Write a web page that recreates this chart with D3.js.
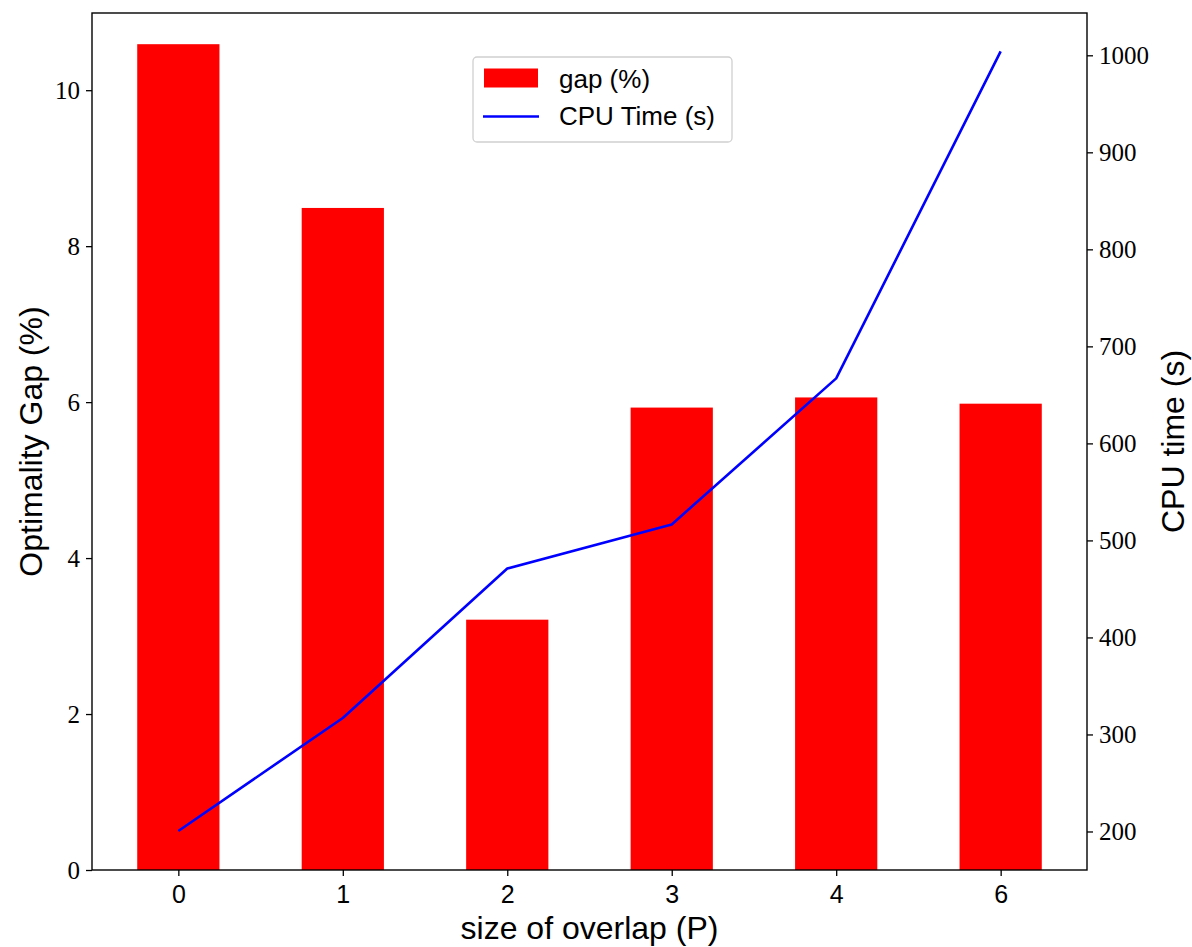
<!DOCTYPE html>
<html>
<head>
<meta charset="utf-8">
<script src="https://cdn.jsdelivr.net/npm/d3@7"></script>
<style>
  html, body { margin: 0; padding: 0; background: #fff; }
  svg { display: block; }
</style>
</head>
<body>
<svg id="chart" width="1192" height="947"></svg>
<script>
// ---- data ----
const categories = ["0", "1", "2", "3", "4", "6"];
const gapValues = [10.59, 8.49, 3.21, 5.93, 6.06, 5.98];
const cpuValues = [200.5, 317, 471, 516.5, 667, 1004];
const leftTicks = [0, 2, 4, 6, 8, 10];
const rightTicks = [200, 300, 400, 500, 600, 700, 800, 900, 1000];
const seriesNames = ["gap (%)", "CPU Time (s)"];
const axisTitles = { x: "size of overlap (P)", left: "Optimality Gap (%)", right: "CPU time (s)" };

// ---- layout ----
const W = 1192, H = 947;
const plot = { left: 92, right: 1087, top: 13, bottom: 870 };
const svg = d3.select("#chart");
const serif = "'Liberation Serif', 'Times New Roman', serif";
const sans = "'Liberation Sans', Arial, Helvetica, sans-serif";

const x = d3.scaleLinear().domain([-0.525, categories.length - 1 + 0.525]).range([plot.left, plot.right]);
const yL = d3.scaleLinear().domain([0, 10.99]).range([plot.bottom, plot.top]);
const yR = d3.scaleLinear().domain([160.3, 1043.6]).range([plot.bottom, plot.top]);
const barW = x(0.5) - x(0);

// bars
svg.append("g").selectAll("rect").data(gapValues).join("rect")
  .attr("x", (d, i) => x(i) - barW / 2)
  .attr("width", barW)
  .attr("y", d => yL(d))
  .attr("height", d => yL(0) - yL(d))
  .attr("fill", "#ff0000");

// line
const line = d3.line().x((d, i) => x(i)).y(d => yR(d));
svg.append("path").datum(cpuValues)
  .attr("d", line)
  .attr("fill", "none")
  .attr("stroke", "#0000ff")
  .attr("stroke-width", 2.6)
  .attr("stroke-linejoin", "round");

// frame
svg.append("rect")
  .attr("x", plot.left).attr("y", plot.top)
  .attr("width", plot.right - plot.left).attr("height", plot.bottom - plot.top)
  .attr("fill", "none").attr("stroke", "#000").attr("stroke-width", 1.4);

// axes
const styleAxis = (g, font, size) => {
  g.select(".domain").remove();
  g.selectAll(".tick line").attr("stroke", "#000").attr("stroke-width", 1.3);
  g.selectAll(".tick text").attr("fill", "#000").attr("font-family", font).attr("font-size", size);
};

const xAxis = d3.axisBottom(x).tickValues(d3.range(categories.length))
  .tickFormat(i => categories[i]).tickSize(6).tickPadding(9);
svg.append("g").attr("transform", `translate(0,${plot.bottom})`).call(xAxis)
  .call(g => styleAxis(g, sans, 25));

const leftAxis = d3.axisLeft(yL).tickValues(leftTicks).tickFormat(d3.format("d")).tickSize(6).tickPadding(6);
svg.append("g").attr("transform", `translate(${plot.left},0)`).call(leftAxis)
  .call(g => styleAxis(g, serif, 25));

const rightAxis = d3.axisRight(yR).tickValues(rightTicks).tickFormat(d3.format("d")).tickSize(6).tickPadding(6);
svg.append("g").attr("transform", `translate(${plot.right},0)`).call(rightAxis)
  .call(g => styleAxis(g, serif, 25));

// axis titles
svg.append("text").attr("x", (plot.left + plot.right) / 2).attr("y", 928)
  .attr("text-anchor", "middle").attr("dominant-baseline", "central")
  .attr("font-family", sans).attr("font-size", 32).text(axisTitles.x);
svg.append("text").attr("transform", `translate(31,${(plot.top + plot.bottom) / 2}) rotate(-90)`)
  .attr("text-anchor", "middle").attr("dominant-baseline", "central")
  .attr("font-family", sans).attr("font-size", 32).text(axisTitles.left);
svg.append("text").attr("transform", `translate(1173,${(plot.top + plot.bottom) / 2}) rotate(-90)`)
  .attr("text-anchor", "middle").attr("dominant-baseline", "central")
  .attr("font-family", sans).attr("font-size", 32).text(axisTitles.right);

// legend
const lg = svg.append("g");
lg.append("rect").attr("x", 473).attr("y", 57).attr("width", 259).attr("height", 85)
  .attr("rx", 4).attr("fill", "#fff").attr("fill-opacity", 0.8)
  .attr("stroke", "#d0d0d0").attr("stroke-width", 1.3);
lg.append("rect").attr("x", 484).attr("y", 68.5).attr("width", 54).attr("height", 19).attr("fill", "#ff0000");
lg.append("line").attr("x1", 483).attr("x2", 539).attr("y1", 116.5).attr("y2", 116.5)
  .attr("stroke", "#0000ff").attr("stroke-width", 2.6);
lg.selectAll("text.lab").data(seriesNames).join("text").attr("class", "lab")
  .attr("x", 559).attr("y", (d, i) => 79 + i * 37)
  .attr("dominant-baseline", "central")
  .attr("font-family", sans).attr("font-size", 26).text(d => d);
</script>
</body>
</html>
